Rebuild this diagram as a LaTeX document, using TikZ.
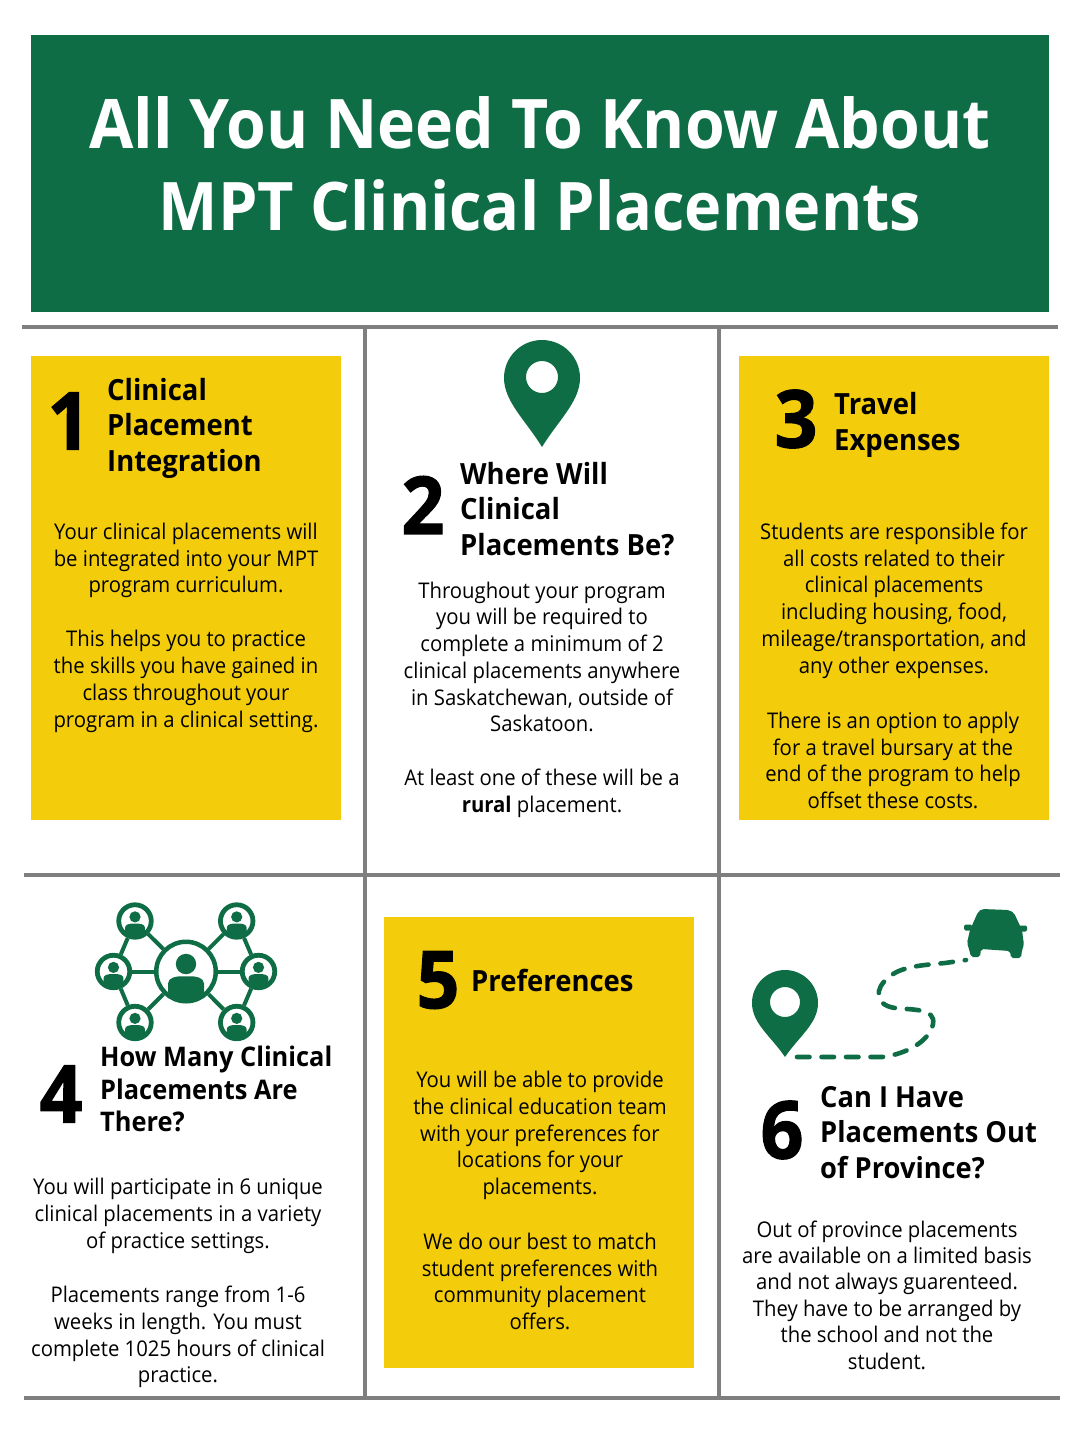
\documentclass[tikz,border=0pt]{standalone}
\usepackage{fontspec}
\setmainfont{Open Sans}[FakeStretch=0.94]
\newfontfamily\heavy{Open Sans}[FakeStretch=0.94,BoldFeatures={FakeBold=1.4}]
\definecolor{mptgreen}{HTML}{0F6D46}
\definecolor{mptgold}{HTML}{F3CD0C}
\definecolor{mptgrey}{HTML}{7F7F7F}
\newcommand{\mappin}[5]{% cx, cy, r, hole r, tip distance
  \fill[mptgreen,even odd rule] (#1+#3,#2) arc[start angle=0,end angle=-180,radius=#3]
    .. controls (#1-#3,#2+0.62*#3) and (#1-0.42*#3,#2+0.62*#5) .. (#1,#2+#5)
    .. controls (#1+0.42*#3,#2+0.62*#5) and (#1+#3,#2+0.62*#3) .. (#1+#3,#2) -- cycle
    (#1+#4,#2-1) arc[start angle=0,end angle=360,radius=#4];}
\newcommand{\person}[3]{% cx, cy, unit
  \fill[mptgreen] (#1,#2-0.25*#3) circle[radius=0.34*#3];
  \fill[mptgreen] (#1-0.6*#3,#2+0.7*#3) -- (#1-0.6*#3,#2+0.4*#3)
    .. controls (#1-0.6*#3,#2+0.2*#3) and (#1-0.3*#3,#2+0.16*#3) .. (#1-0.2*#3,#2+0.16*#3)
    -- (#1+0.2*#3,#2+0.16*#3)
    .. controls (#1+0.3*#3,#2+0.16*#3) and (#1+0.6*#3,#2+0.2*#3) .. (#1+0.6*#3,#2+0.4*#3)
    -- (#1+0.6*#3,#2+0.7*#3)
    .. controls (#1+0.3*#3,#2+1.04*#3) and (#1-0.3*#3,#2+1.04*#3) .. (#1-0.6*#3,#2+0.7*#3) -- cycle;}
\tikzset{
  x=1pt,y=-1pt,
  rule/.style={draw=mptgrey,line width=3.4pt},
  body/.style={align=center,inner sep=0pt,font=\fontsize{21.6}{26.75}\selectfont,text=black},
  head/.style={anchor=west,align=left,inner sep=0pt,font=\fontsize{29.2}{35.5}\selectfont\bfseries,text=black},
  numeral/.style={inner sep=0pt,font=\fontsize{80}{80}\selectfont\heavy\bfseries,text=black},
  hub/.style={circle,draw=mptgreen,line width=4.5pt,fill=white,minimum size=59.5pt,inner sep=0pt},
  spoke/.style={circle,draw=mptgreen,line width=4.8pt,fill=white,minimum size=32.5pt,inner sep=0pt},
  link/.style={draw=mptgreen,line width=4pt},
}
\begin{document}
\begin{tikzpicture}
\useasboundingbox (0,0) rectangle (1080,1440);
\fill[white] (0,0) rectangle (1080,1440);
% panels
\fill[mptgreen] (31,35) rectangle (1049,312);
\fill[mptgold] (31,356) rectangle (341,820);
\fill[mptgold] (739,356) rectangle (1049,820);
\fill[mptgold] (384,917) rectangle (694,1368);
% rules
\draw[rule] (22,327) -- (1058,327);
\draw[rule] (24,875) -- (1060,875);
\draw[rule] (24,1398) -- (1060,1398);
\draw[rule] (365,327) -- (365,1398);
\draw[rule] (719,327) -- (719,1398);
% title
\node[align=center,inner sep=0pt,text=white,font=\fontsize{68.4}{82}\selectfont\bfseries] (title) at (540,164) {All You Need To Know About\\{\fontsize{67}{82}\selectfont MPT Clinical Placements}};
% section 1
\node[numeral] (n1) at (69,421) {1};
\node[head] (h1) at (107,428) {Clinical\\Placement\\Integration};
\node[body] (b1a) at (186,560.5) {Your clinical placements will\\be integrated into your MPT\\program curriculum.};
\node[body] (b1b) at (186,681.5) {This helps you to practice\\the skills you have gained in\\class throughout your\\program in a clinical setting.};
% section 2
\mappin{542}{378}{38}{16}{69}
\node[numeral] (n2) at (423,505) {2};
\node[head] (h2) at (460,509) {Where Will\\Clinical\\Placements Be?};
\node[body] (b2a) at (542,657) {Throughout your program\\you will be required to\\complete a minimum of 2\\clinical placements anywhere\\in Saskatchewan, outside of\\Saskatoon.};
\node[body] (b2b) at (542,793.5) {At least one of these will be a\\\textbf{rural} placement.};
% section 3
\node[numeral] (n3) at (796,419) {3};
\node[head] (h3) at (834,425) {Travel\\Expenses};
\node[body] (b3a) at (894,600.5) {Students are responsible for\\all costs related to their\\clinical placements\\including housing, food,\\mileage/transportation, and\\any other expenses.};
\node[body] (b3b) at (893,760.5) {There is an option to apply\\for a travel bursary at the\\end of the program to help\\offset these costs.};
% section 4
\node[hub] (hb) at (186,971.5) {};
\node[spoke] (s1) at (135,921) {};
\node[spoke] (s2) at (236.7,921) {};
\node[spoke] (s3) at (113.5,971.5) {};
\node[spoke] (s4) at (258.5,971.5) {};
\node[spoke] (s5) at (135,1022.5) {};
\node[spoke] (s6) at (236.7,1022.5) {};
\draw[link] (hb) -- (s1);
\draw[link] (hb) -- (s2);
\draw[link] (hb) -- (s3);
\draw[link] (hb) -- (s4);
\draw[link] (hb) -- (s5);
\draw[link] (hb) -- (s6);
\draw[link] (s1) -- (s3);
\draw[link] (s3) -- (s5);
\draw[link] (s2) -- (s4);
\draw[link] (s4) -- (s6);
\person{186}{971.5}{30}
\person{135}{921}{16.5}
\person{236.7}{921}{16.5}
\person{113.5}{971.5}{16.5}
\person{258.5}{971.5}{16.5}
\person{135}{1022.5}{16.5}
\person{236.7}{1022.5}{16.5}
\node[numeral] (n4) at (61,1094) {4};
\node[head,font=\fontsize{27}{32.5}\selectfont\bfseries] (h4) at (100,1089) {How Many Clinical\\Placements Are\\There?};
\node[body] (b4a) at (178,1216) {You will participate in 6 unique\\clinical placements in a variety\\of practice settings.};
\node[body] (b4b) at (178,1337) {Placements range from 1-6\\weeks in length. You must\\complete 1025 hours of clinical\\practice.};
% section 5
\node[numeral] (n5) at (438,980) {5};
\node[head] (h5) at (471,980.5) {Preferences};
\node[body] (b5a) at (540,1135.5) {You will be able to provide\\the clinical education team\\with your preferences for\\locations for your\\placements.};
\node[body] (b5b) at (540,1281.5) {We do our best to match\\student preferences with\\community placement\\offers.};
% section 6
\mappin{785}{1003}{33}{15}{54}
\draw[mptgreen,line width=4.6pt,line cap=round,dash pattern=on 12.5pt off 12pt]
  (797,1057) -- (882,1057)
  .. controls (908,1054) and (930,1040) .. (933,1024)
  .. controls (936,1008) and (912,1010) .. (895,1008)
  .. controls (874,1005) and (875,988) .. (888,978)
  .. controls (900,966) and (925,965) .. (945,963)
  -- (966,960);
\fill[mptgreen,rounded corners=2pt] (970,930) -- (978,912) -- (982,909) -- (1009,910) -- (1014,913) -- (1022,930)
  -- (1024,945) -- (1022,950) -- (1021,958) -- (1011,958) -- (1010,951) -- (981,949) -- (980,957) -- (971,957) -- (969,949) -- (967,943) -- cycle;
\fill[mptgreen,rounded corners=1.5pt] (964,924.5) rectangle (972,930.5);
\fill[mptgreen,rounded corners=1.5pt] (1019,925.5) rectangle (1027,931.5);
\node[numeral] (n6) at (782,1130) {6};
\node[head,font=\fontsize{29}{35.5}\selectfont\bfseries] (h6) at (820,1132.5) {Can I Have\\Placements Out\\of Province?};
\node[body,font=\fontsize{21.6}{26.35}\selectfont] (b6) at (887,1295) {Out of province placements\\are available on a limited basis\\and not always guarenteed.\\They have to be arranged by\\the school and not the\\student.};
\end{tikzpicture}
\end{document}
